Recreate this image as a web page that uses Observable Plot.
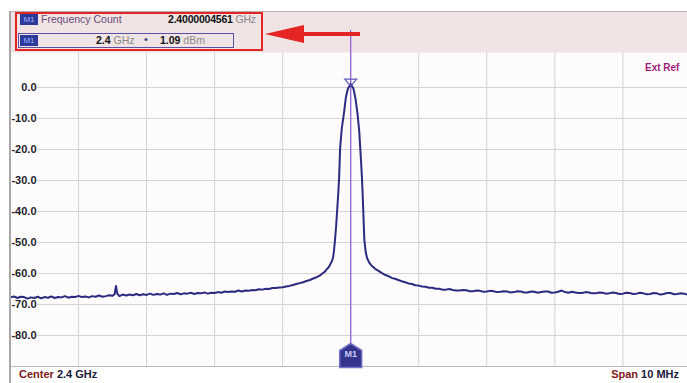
<!DOCTYPE html>
<html>
<head>
<meta charset="utf-8">
<script src="https://cdn.jsdelivr.net/npm/d3@7"></script>
<script src="https://cdn.jsdelivr.net/npm/@observablehq/plot@0.6"></script>
<style>
  body { margin: 0; background: #fff; }
  #wrap { position: relative; width: 687px; height: 383px; overflow: hidden; background: #fff;
          font-family: "Liberation Sans", Arial, sans-serif; }
  .abs { position: absolute; white-space: nowrap; }
  .badge { position: absolute; width: 18px; height: 11px; background: #2d3a9a; color: #9fb0ff;
           font-size: 8px; line-height: 11px; text-align: center; }
</style>
</head>
<body>
<div id="wrap">
  <div class="abs" style="left:10px;top:11px;width:677px;height:41px;background:#efe3e3;border-top:1px solid #b8b0b0;z-index:0"></div>
  <div id="chart" class="abs" style="left:0;top:0;z-index:1"></div>
  <div class="abs" style="left:9px;top:11px;width:2px;height:372px;background:#a8a8a8;z-index:2"></div>
  <!-- header -->
  <div class="abs" style="left:15px;top:12px;width:248px;height:39px;border:2px solid #e52424;box-sizing:border-box;z-index:3"></div>
  <div class="badge" style="left:20px;top:14px;z-index:3">M1</div>
  <div class="abs" style="left:41px;top:13px;font-size:10.5px;color:#6a4a7a;z-index:3">Frequency Count</div>
  <div class="abs" style="left:168px;top:13px;font-size:10.5px;z-index:3;letter-spacing:-0.2px"><b style="color:#111">2.4000004561</b> <span style="color:#8a8a8a">GHz</span></div>
  <div class="abs" style="left:18px;top:33px;width:216px;height:15px;border:1.5px solid #5a50a8;box-sizing:border-box;z-index:3"></div>
  <div class="badge" style="left:20px;top:35px;z-index:3">M1</div>
  <div class="abs" style="left:96px;top:34px;font-size:10.5px;z-index:3"><b style="color:#111">2.4</b> <span style="color:#8a8a8a">GHz</span></div>
  <div class="abs" style="left:144px;top:33px;font-size:11px;color:#3a3a8a;z-index:3">&#8226;</div>
  <div class="abs" style="left:160px;top:34px;font-size:10.5px;z-index:3"><b style="color:#111">1.09</b> <span style="color:#8a8a8a">dBm</span></div>
  <svg class="abs" style="left:262px;top:22px;z-index:3" width="100" height="24">
    <polygon points="3,12 42,3 42,21" fill="#e52424"/>
    <rect x="40" y="10" width="58" height="4" fill="#e52424"/>
  </svg>
  <div class="abs" style="left:645px;top:62px;font-size:10px;font-weight:bold;color:#a0207a;z-index:3">Ext Ref</div>
  <!-- footer -->
  <div class="abs" style="left:19px;top:368px;font-size:11px;font-weight:bold;z-index:3"><span style="color:#7a1a1a">Center</span> <span style="color:#1a1a3a">2.4 GHz</span></div>
  <div class="abs" style="right:8px;top:368px;font-size:11px;font-weight:bold;z-index:3"><span style="color:#7a1a1a">Span</span> <span style="color:#1a1a3a">10 MHz</span></div>
</div>
<script>
// Frequency offset from centre (MHz) and measured level (dBm)
const freqOffsetMHz = [
  -5.0,-4.95,-4.9,-4.85,-4.8,-4.75,-4.7,-4.65,-4.6,-4.55,-4.5,-4.45,-4.4,-4.35,-4.3,-4.25,-4.2,-4.15,-4.1,-4.05,
  -4.0,-3.95,-3.9,-3.85,-3.8,-3.75,-3.7,-3.65,-3.6,-3.55,-3.5,-3.47,-3.45,-3.43,-3.4,-3.35,-3.3,-3.25,-3.2,-3.15,
  -3.1,-3.05,-3.0,-2.95,-2.9,-2.85,-2.8,-2.75,-2.7,-2.65,-2.6,-2.55,-2.5,-2.45,-2.4,-2.35,-2.3,-2.25,-2.2,-2.15,
  -2.1,-2.05,-2.0,-1.95,-1.9,-1.85,-1.8,-1.75,-1.7,-1.65,-1.6,-1.55,-1.5,-1.45,-1.4,-1.35,-1.3,-1.25,-1.2,-1.15,
  -1.1,-1.05,-1.0,-0.95,-0.9,-0.85,-0.8,-0.75,-0.7,-0.65,-0.6,-0.55,-0.5,-0.45,-0.42,-0.38,-0.35,-0.32,-0.30,-0.28,
  -0.26,-0.245,-0.23,-0.215,-0.20,-0.185,-0.17,-0.155,-0.13,-0.10,-0.07,-0.04,0,0.04,0.07,0.10,0.125,0.14,0.155,0.165,
  0.175,0.185,0.20,0.22,0.24,0.27,0.30,0.33,0.36,0.39,0.42,0.46,0.5,0.55,0.6,0.65,0.7,0.75,0.8,0.85,
  0.9,0.95,1.0,1.05,1.1,1.15,1.2,1.25,1.3,1.35,1.4,1.45,1.5,1.55,1.6,1.65,1.7,1.75,1.8,1.85,
  1.9,1.95,2.0,2.05,2.1,2.15,2.2,2.25,2.3,2.35,2.4,2.45,2.5,2.55,2.6,2.65,2.7,2.75,2.8,2.85,
  2.9,2.95,3.0,3.05,3.1,3.15,3.2,3.25,3.3,3.35,3.4,3.45,3.5,3.55,3.6,3.65,3.7,3.75,3.8,3.85,
  3.9,3.95,4.0,4.05,4.1,4.15,4.2,4.25,4.3,4.35,4.4,4.45,4.5,4.55,4.6,4.65,4.7,4.75,4.8,4.85,
  4.9,4.95
];
const levelDbm = [
  -67.7,-67.4,-67.9,-67.5,-67.6,-68.1,-67.7,-67.9,-67.5,-68.0,-67.6,-67.8,-67.4,-67.9,-67.6,-67.7,-67.3,-67.8,-67.5,-67.6,
  -67.2,-67.6,-67.4,-67.7,-67.3,-67.5,-67.1,-67.5,-67.3,-67.0,-67.2,-66.7,-64.0,-66.5,-67.3,-66.8,-67.1,-66.8,-67.0,-66.6,
  -67.0,-66.7,-66.9,-66.5,-66.9,-66.6,-66.8,-66.4,-66.9,-66.5,-66.6,-66.3,-66.7,-66.4,-66.5,-66.2,-66.6,-66.3,-66.4,-66.1,
  -66.5,-66.2,-66.3,-66.0,-66.2,-65.8,-66.0,-65.8,-65.9,-65.5,-65.8,-65.5,-65.6,-65.3,-65.4,-65.1,-65.2,-64.9,-65.0,-64.7,
  -64.7,-64.5,-64.4,-64.2,-64.0,-63.7,-63.4,-63.1,-62.8,-62.4,-62.1,-61.6,-61.2,-60.6,-60.1,-59.4,-58.6,-57.9,-57.0,-56.2,
  -55.0,-52.5,-49.0,-45.0,-40.0,-35.0,-29.0,-19.4,-13.0,-8.4,-3.0,-0.3,1.09,-0.3,-3.5,-8.4,-14.0,-19.4,-25.0,-29.0,
  -34.0,-40.0,-49.0,-53.0,-55.0,-56.4,-57.3,-57.9,-58.5,-58.9,-59.3,-59.9,-60.4,-60.8,-61.4,-61.7,-62.1,-62.5,-62.8,-63.2,
  -63.4,-63.8,-63.9,-64.2,-64.3,-64.6,-64.6,-64.9,-64.9,-65.2,-65.2,-65.0,-65.3,-65.5,-65.5,-65.3,-65.4,-65.7,-65.7,-65.5,
  -65.6,-65.9,-65.8,-65.6,-65.7,-66.0,-65.9,-65.7,-65.8,-66.1,-66.0,-65.7,-65.8,-66.1,-66.1,-65.8,-65.9,-66.2,-66.0,-65.8,
  -65.8,-66.2,-66.1,-65.9,-65.5,-66.0,-66.2,-65.9,-66.1,-66.3,-66.3,-66.0,-66.1,-66.4,-66.4,-66.1,-66.2,-66.5,-66.4,-66.1,
  -66.3,-66.6,-66.5,-66.2,-66.3,-66.6,-66.5,-66.2,-66.4,-66.7,-66.6,-66.3,-66.4,-66.8,-66.6,-66.3,-66.3,-66.7,-66.6,-66.4,
  -66.5,-66.8
];
const yTicks = [0, -10, -20, -30, -40, -50, -60, -70, -80];
const yTickLabels = ["0.0", "-10.0", "-20.0", "-30.0", "-40.0", "-50.0", "-60.0", "-70.0", "-80.0"];
const xGrid = [-4, -3, -2, -1, 0, 1, 2, 3, 4];
const markerName = ["M1"];
const markerFreq = [0];
const markerLevel = [1.09];

const trace = freqOffsetMHz.map((f, i) => ({f, dbm: levelDbm[i]}));
const ticks = yTicks.map((v, i) => ({v, label: yTickLabels[i]}));
const markers = markerName.map((n, i) => ({name: n, f: markerFreq[i], dbm: markerLevel[i]}));

const house = {draw(ctx) {
  ctx.moveTo(0, -12); ctx.lineTo(11, -5); ctx.lineTo(11, 12); ctx.lineTo(-11, 12); ctx.lineTo(-11, -5); ctx.closePath();
}};
const vee = {draw(ctx) {
  ctx.moveTo(-6, -3); ctx.lineTo(6, -3); ctx.lineTo(0, 4); ctx.closePath();
}};

const chart = Plot.plot({
  width: 687,
  height: 383,
  marginTop: 52,
  marginBottom: 17,
  marginLeft: 10,
  marginRight: 0,
  style: {background: "transparent", fontFamily: "'Liberation Sans',Arial,sans-serif"},
  x: {domain: [-5, 4.95], axis: null},
  y: {domain: [-90, 11.3], axis: null},
  marks: [
    Plot.frame({fill: "#fdfbfb", stroke: null}),
    Plot.ruleX(xGrid, {stroke: "#d6d2d2", strokeWidth: 1}),
    Plot.ruleY(yTicks, {stroke: "#d6d2d2", strokeWidth: 1, insetLeft: 27}),
    Plot.ruleY([-90], {stroke: "#bdb8b8", strokeWidth: 1}),
    Plot.text(ticks, {x: -5, y: "v", text: "label", dx: 26, textAnchor: "end",
      fontSize: 11, fontWeight: "bold", fill: "#1e1e2a"}),
    Plot.ruleX(markers, {x: "f", y1: -82.6, y2: 18.4, stroke: "#8a5ad8", strokeWidth: 1.2, clip: false}),
    Plot.line(trace, {x: "f", y: "dbm", stroke: "#2b2b80", strokeWidth: 2, strokeLinejoin: "round"}),
    Plot.dot(markers, {x: "f", y: "dbm", symbol: vee, r: 5, fill: "none", stroke: "#5a5ab8", strokeWidth: 1.2, dy: -2}),
    Plot.dot(markers, {x: "f", frameAnchor: "bottom", dy: -11, symbol: house, r: 10,
      fill: "#34348c", stroke: "#7070c8", strokeWidth: 1.5}),
    Plot.text(markers, {x: "f", frameAnchor: "bottom", dy: -10, text: "name", fontSize: 9,
      fontWeight: "bold", fill: "#c8c8f4"})
  ]
});
document.getElementById("chart").appendChild(chart);
</script>
</body>
</html>
